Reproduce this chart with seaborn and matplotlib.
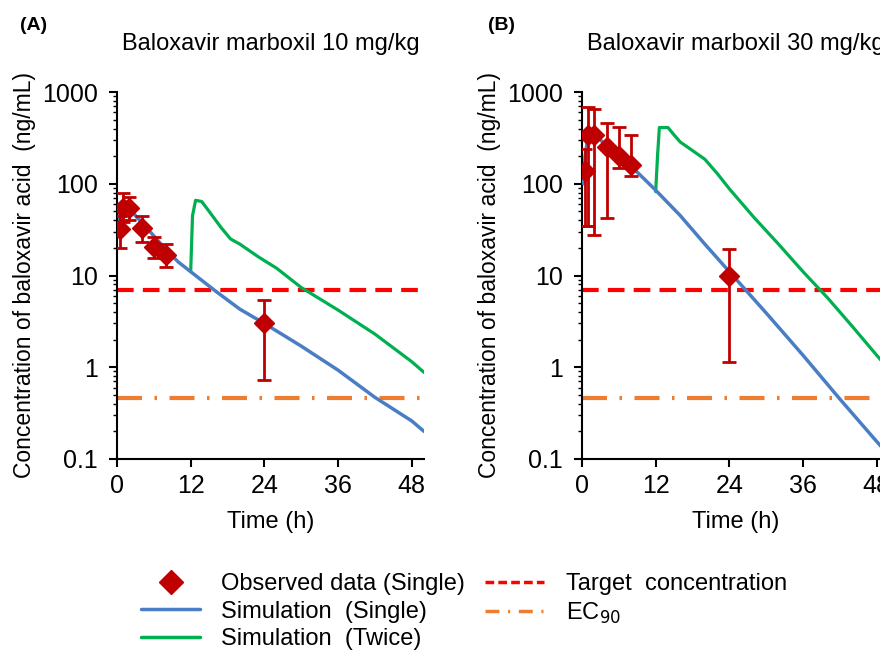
import numpy as np
import pandas as pd
import matplotlib
matplotlib.use("Agg")
import matplotlib.pyplot as plt
from matplotlib.lines import Line2D
import seaborn as sns

# observed data (mean, lower, upper) - 10 mg/kg
obs_t_10 = [0.5, 1, 2, 4, 6, 8, 24]
obs_y_10 = [32, 55, 55, 33, 20.5, 16.7, 3.05]
obs_lo_10 = [19.8, 38, 40, 23.3, 15.4, 12.5, 0.73]
obs_hi_10 = [45, 80, 72, 44.6, 26, 21.8, 5.4]

# observed data - 30 mg/kg
obs_t_30 = [0.5, 1, 2, 4, 6, 8, 24]
obs_y_30 = [138, 340, 340, 251, 200, 160, 9.9]
obs_lo_30 = [35, 35, 27.4, 42.7, 150, 120, 1.15]
obs_hi_30 = [240, 690, 660, 464, 418, 340, 19.3]

# simulation, single dose
sim_t_single = [0.25, 0.5, 1, 1.5, 2, 3, 4, 6, 8, 10, 12, 16, 20, 24, 30, 36, 42, 48, 50]
sim_single_10 = [30, 45, 56, 58, 55, 45, 38, 27, 19, 14, 11, 6.8, 4.3, 3.0, 1.7, 0.93, 0.47, 0.26, 0.2]
sim_single_30 = [100, 200, 330, 350, 340, 300, 260, 200, 155, 115, 85, 45, 22, 11, 3.9, 1.35, 0.45, 0.155, 0.11]

# simulation, twice (second dose at 12 h)
sim_t_twice_10 = [12, 12.3, 12.8, 13.8, 15, 17, 18.5, 20, 23, 26, 30, 36, 42, 48, 50]
sim_twice_10 = [11, 45, 66, 64, 50, 33, 25, 22, 16, 12, 7.4, 4.2, 2.3, 1.15, 0.88]
sim_t_twice_30 = [12, 12.3, 12.6, 14, 15, 16, 18, 20, 22, 24, 28, 32, 36, 40, 44, 48, 50]
sim_twice_30 = [82, 200, 410, 410, 340, 285, 230, 185, 130, 88, 43, 22, 11, 5.7, 2.8, 1.35, 0.95]

target_conc = 6.9
ec90 = 0.46

titles = ["Baloxavir marboxil 10 mg/kg", "Baloxavir marboxil 30 mg/kg"]
panel_tags = ["(A)", "(B)"]

sns.set_theme(style="ticks")
plt.rcParams['font.family'] = ['Liberation Sans', 'DejaVu Sans']
plt.rcParams['text.color'] = 'black'
plt.rcParams['axes.labelcolor'] = 'black'

c_obs = "#C00000"
c_single = "#4A7EC4"
c_twice = "#00B050"
c_target = "#FF0000"
c_ec90 = "#ED7D31"

fig = plt.figure(figsize=(8.8, 6.52), dpi=100)
ax_a = fig.add_axes([117 / 880, 1 - 459 / 652, 307 / 880, 367 / 652])
ax_b = fig.add_axes([582 / 880, 1 - 459 / 652, 307 / 880, 367 / 652])

panels = [
    (ax_a, obs_t_10, obs_y_10, obs_lo_10, obs_hi_10, sim_single_10, sim_t_twice_10, sim_twice_10),
    (ax_b, obs_t_30, obs_y_30, obs_lo_30, obs_hi_30, sim_single_30, sim_t_twice_30, sim_twice_30),
]

for i, (ax, ot, oy, olo, ohi, ss, tt, tw) in enumerate(panels):
    ax.axhline(target_conc, color=c_target, lw=3, dashes=(4, 2.2), zorder=1)
    ax.axhline(ec90, color=c_ec90, lw=3, dashes=(6, 3, 0.6, 3), zorder=1)
    sns.lineplot(x=tt, y=tw, ax=ax, color=c_twice, lw=2.3, sort=False, zorder=2)
    sns.lineplot(x=sim_t_single, y=ss, ax=ax, color=c_single, lw=2.5, sort=False, zorder=3)
    oy = np.array(oy)
    yerr = [oy - np.array(olo), np.array(ohi) - oy]
    ax.errorbar(ot, oy, yerr=yerr, fmt="D", color=c_obs, ms=10, elinewidth=2,
                capsize=5, capthick=2, zorder=4)

    ax.set_yscale("log")
    ax.set_ylim(0.1, 1000)
    ax.set_xlim(0, 50)
    ax.set_xticks([0, 12, 24, 36, 48])
    ax.set_yticks([0.1, 1, 10, 100, 1000])
    ax.set_yticklabels(["0.1", "1", "10", "100", "1000"])
    ax.tick_params(axis="both", which="major", labelsize=18, direction="out",
                   length=6, width=1.5, color="black", labelcolor="black")
    ax.tick_params(axis="y", which="major", pad=8)
    ax.tick_params(axis="x", which="major", pad=5)
    ax.tick_params(axis="y", which="minor", direction="out", length=3, width=1, color="black")
    for s in ["left", "bottom"]:
        ax.spines[s].set_linewidth(1.5)
        ax.spines[s].set_color("black")
    sns.despine(ax=ax)
    ax.set_xlabel("Time (h)", fontsize=17, labelpad=9)
    ax.set_ylabel("Concentration of baloxavir acid  (ng/mL)", fontsize=16.5, labelpad=4)
    ax.set_title(titles[i], fontsize=17, pad=30)

fig.text(20 / 880, 1 - 26 / 652, panel_tags[0], fontsize=14, fontweight="bold", va="center")
fig.text(488 / 880, 1 - 26 / 652, panel_tags[1], fontsize=14, fontweight="bold", va="center")

handles = [
    Line2D([], [], marker="D", ls="none", color=c_obs, ms=12),
    Line2D([], [], color=c_single, lw=2.5),
    Line2D([], [], color=c_twice, lw=2.5),
    Line2D([], [], color=c_target, lw=2.5, dashes=(2.5, 1.2)),
    Line2D([], [], color=c_ec90, lw=2.5, dashes=(4, 2.5, 0.6, 2.5)),
]
labels = ["Observed data (Single)", "Simulation  (Single)", "Simulation  (Twice)",
          "Target  concentration", "EC$_{90}$"]
fig.legend(handles, labels, loc="upper left", bbox_to_anchor=(141 / 880, 1 - 573 / 652),
           ncol=2, frameon=False, fontsize=17, handlelength=2.5, handletextpad=0.9,
           columnspacing=0.85, labelspacing=0.24, borderpad=0, borderaxespad=0)

fig.savefig("out.png", dpi=100)
